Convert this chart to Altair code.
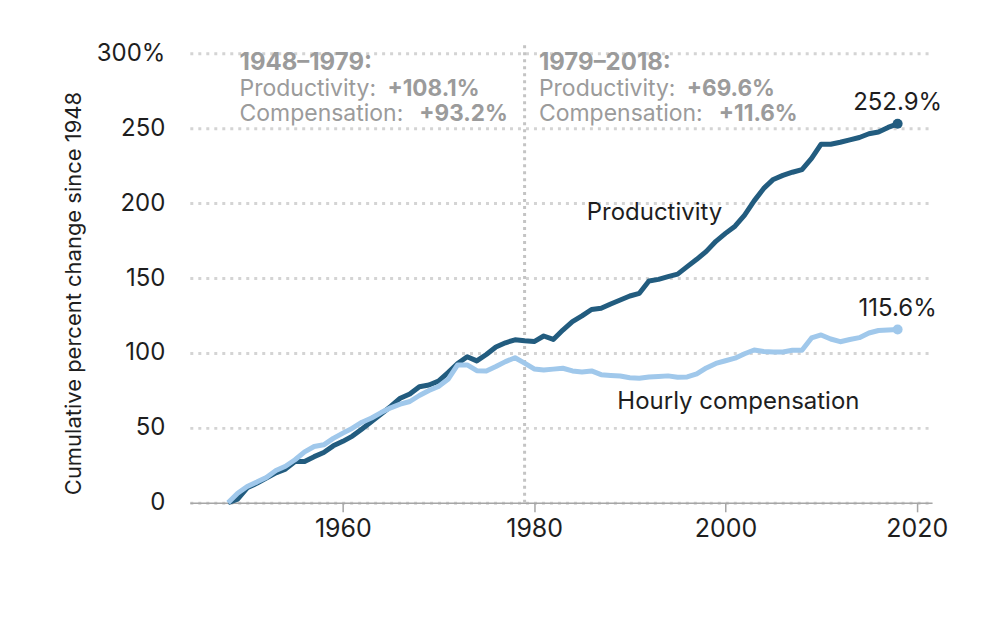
import altair as alt
import pandas as pd

years = list(range(1948, 2019))

productivity = [
    0.0, 2.5, 10.0, 13.0, 16.5, 20.0, 22.5, 27.5, 27.6, 30.8,
    33.6, 38.0, 41.0, 44.5, 49.3, 54.3, 59.2, 64.3, 69.8, 72.6,
    77.5, 78.6, 81.2, 86.9, 93.0, 97.5, 94.7, 99.0, 104.0, 106.8,
    108.8, 108.1, 107.6, 111.3, 109.0, 115.3, 120.9, 124.7, 129.0, 129.8,
    132.7, 135.3, 138.0, 139.8, 148.0, 149.1, 150.9, 152.6, 157.6, 162.5,
    167.8, 174.5, 179.8, 184.6, 192.0, 201.5, 209.8, 215.8, 218.5, 220.6,
    222.4, 229.8, 239.3, 239.3, 240.6, 242.2, 243.8, 246.3, 247.5, 250.5,
    252.9,
]

compensation = [
    0.0, 6.4, 10.9, 13.8, 16.9, 21.5, 24.4, 28.7, 34.0, 37.6,
    38.7, 43.0, 46.5, 49.8, 53.8, 56.6, 60.2, 63.4, 65.8, 67.6,
    71.6, 74.9, 77.6, 82.4, 92.0, 92.0, 88.2, 88.0, 90.9, 94.2,
    96.8, 93.2, 89.3, 88.6, 89.2, 89.8, 88.0, 87.3, 88.0, 85.5,
    85.0, 84.6, 83.5, 83.1, 84.0, 84.3, 84.7, 83.8, 84.0, 86.0,
    90.0, 93.0, 94.8, 96.5, 99.5, 102.0, 101.0, 100.6, 100.6, 101.8,
    101.8, 110.0, 112.0, 109.3, 107.5, 109.0, 110.2, 113.3, 115.0, 115.3,
    115.6,
]

series_names = ["Productivity", "Hourly compensation"]
series_colors = ["#225c7f", "#a0c8eb"]

y_ticks = [0, 50, 100, 150, 200, 250, 300]
x_ticks = [1960, 1980, 2000, 2020]
divider_year = [1979]

FONT = "Inter"
GRAY = "#9b9b9b"
INK = "#1e1e1e"

rows = []
for yr, p, c in zip(years, productivity, compensation):
    rows.append({"year": yr, "value": p, "series": series_names[0]})
    rows.append({"year": yr, "value": c, "series": series_names[1]})
df = pd.DataFrame(rows)
end_df = df[df["year"] == years[-1]].copy()
end_df["label"] = end_df["value"].map(lambda v: f"{v:.1f}%")

x_scale = alt.Scale(domain=[1944, 2021.6], nice=False, zero=False)
y_scale = alt.Scale(domain=[0, 300], nice=False)
color_scale = alt.Scale(domain=series_names, range=series_colors)

x_enc = alt.X(
    "year:Q", scale=x_scale, title=None,
    axis=alt.Axis(values=x_ticks, format="d", grid=False, domainColor="#a6a6a6",
                  domainWidth=1.5, tickColor="#a6a6a6", tickWidth=1.5, tickSize=9,
                  labelFontSize=25, labelColor=INK, labelPadding=5, labelFont=FONT),
)
y_enc = alt.Y(
    "value:Q", scale=y_scale,
    title="Cumulative percent change since 1948",
    axis=alt.Axis(values=y_ticks, labelExpr="datum.value == 300 ? '300%' : datum.label",
                  grid=True, gridDash=[3, 5], gridColor="#d4d4d4", gridWidth=3,
                  domain=False, ticks=False, labelPadding=25, labelFontSize=24,
                  labelColor=INK, labelFont=FONT, titleFont=FONT, titleFontSize=22,
                  titleFontWeight="normal", titleColor=INK, titleX=-116, titleY=240,
                  titleAngle=270, titleAlign="center", titleBaseline="middle"),
)

divider = alt.Chart(pd.DataFrame({"year": divider_year})).mark_rule(
    strokeDash=[3, 4], strokeWidth=3, color="#c4c4c4"
).encode(x=alt.X("year:Q", scale=x_scale), y=alt.value(-8), y2=alt.value(450))

lines = alt.Chart(df).mark_line(strokeWidth=5, strokeJoin="round").encode(
    x=x_enc, y=y_enc,
    color=alt.Color("series:N", scale=color_scale, legend=None),
)

dots = alt.Chart(end_df).mark_circle(size=100, opacity=1).encode(
    x=alt.X("year:Q", scale=x_scale), y=alt.Y("value:Q", scale=y_scale),
    color=alt.Color("series:N", scale=color_scale, legend=None),
)

end_labels = alt.Chart(end_df).mark_text(
    font=FONT, fontSize=24, color=INK, align="center", baseline="middle", dy=-21
).encode(x=alt.X("year:Q", scale=x_scale), y=alt.Y("value:Q", scale=y_scale), text="label:N")

series_labels = alt.Chart(pd.DataFrame({
    "year": [1985.5, 1988.7],
    "value": [193.3, 67.5],
    "text": series_names,
})).mark_text(font=FONT, fontSize=24, color=INK, align="left", baseline="middle").encode(
    x=alt.X("year:Q", scale=x_scale), y=alt.Y("value:Q", scale=y_scale), text="text:N")

ann_x = [1949.2, 1980.5]
ann_rows_y = [293.5, 276.0, 259.3]
ann_head = ["1948–1979:", "1979–2018:"]
ann_prod = ["+108.1%", "+69.6%"]
ann_comp = ["+93.2%", "+11.6%"]

heads = pd.DataFrame({"year": ann_x, "value": [ann_rows_y[0]] * 2, "text": ann_head})
plain = pd.DataFrame({
    "year": ann_x + ann_x,
    "value": [ann_rows_y[1]] * 2 + [ann_rows_y[2]] * 2,
    "text": ["Productivity:"] * 2 + ["Compensation:"] * 2,
})
bold_p = pd.DataFrame({"year": ann_x, "value": [ann_rows_y[1]] * 2, "text": ann_prod})
bold_c = pd.DataFrame({"year": ann_x, "value": [ann_rows_y[2]] * 2, "text": ann_comp})

def ann(data, weight, size, dx=0):
    return alt.Chart(data).mark_text(
        font=FONT, fontSize=size, color=GRAY, align="left", baseline="middle",
        fontWeight=weight, dx=dx,
    ).encode(x=alt.X("year:Q", scale=x_scale), y=alt.Y("value:Q", scale=y_scale), text="text:N")

chart = alt.layer(
    divider, lines, dots, end_labels, series_labels,
    ann(heads, "bold", 24), ann(plain, "normal", 23),
    ann(bold_p, "bold", 22.5, 148), ann(bold_c, "bold", 22.5, 180),
).properties(
    width=743, height=450,
    autosize=alt.AutoSizeParams(type="none"),
    padding={"left": 182, "top": 45, "right": 60, "bottom": 100},
).configure_view(stroke=None)

chart.save("out.html", embed_options={"renderer": "svg", "actions": False})
